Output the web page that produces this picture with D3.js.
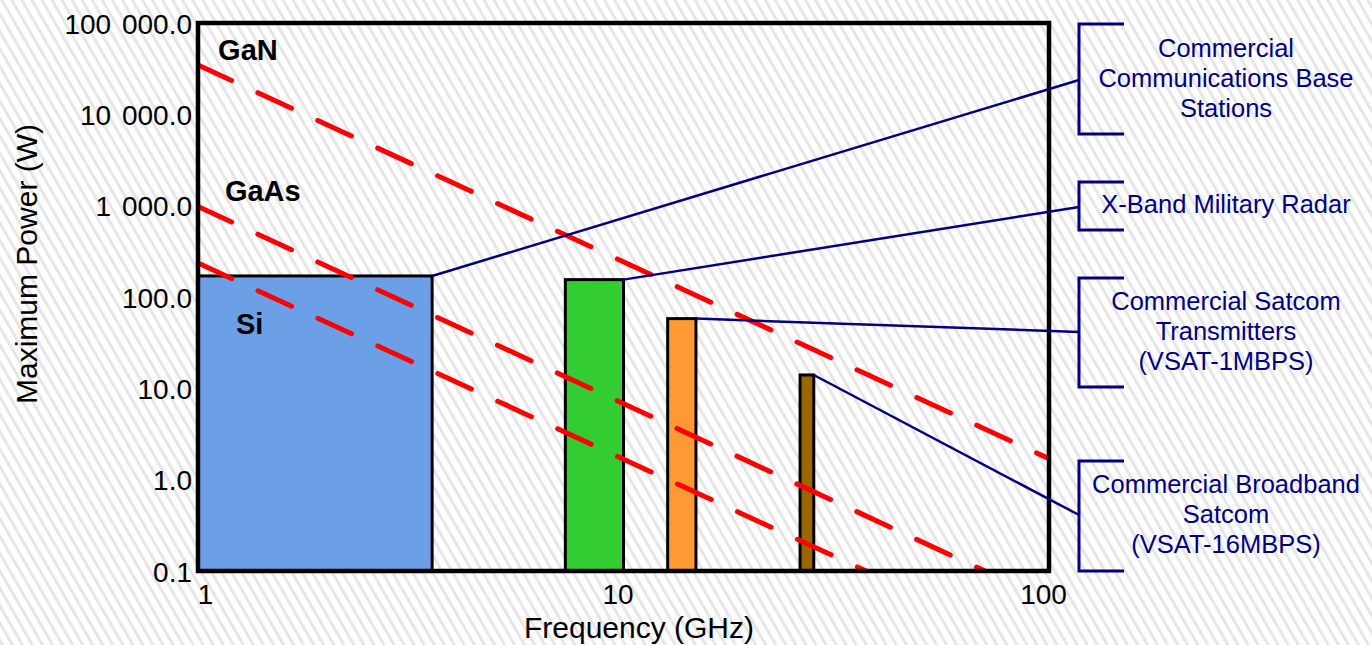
<!DOCTYPE html>
<html>
<head>
<meta charset="utf-8">
<script src="https://cdn.jsdelivr.net/npm/d3@7"></script>
<style>
  body { margin: 0; background: #fff; }
  svg { display: block; font-family: "Liberation Sans", Arial, sans-serif; }
</style>
</head>
<body>
<div id="chart"></div>
<script>
// axis ticks
const freqTicks = [1, 10, 100];
const freqTickLabels = ["1", "10", "100"];
const powerTicks = [0.1, 1, 10, 100, 1000, 10000, 100000];
const powerTickLabels = ["0.1", "1.0", "10.0", "100.0", "1 000.0", "10 000.0", "100 000.0"];

// application bands (GHz) and their max power (W)
const bandNames = ["Si", "X-Band", "Satcom 1MBPS", "Satcom 16MBPS"];
const bandFreqLow = [1, 7.3, 12.7, 26];
const bandFreqHigh = [3.55, 10, 14.8, 28];
const bandPower = [170, 155, 58, 14];
const bandColors = ["#6ca0e6", "#33cc33", "#ff9933", "#996600"];

// technology limit lines, [frequency, power] end points
const limitNames = ["GaN", "GaAs", "Si"];
const limitStart = [[1, 34700], [1, 980], [1, 235]];
const limitEnd = [[100, 1.7], [70.7, 0.1], [37.2, 0.1]];

// material labels, anchored in data units
const materialLabels = ["GaN", "GaAs", "Si"];
const materialLabelFreq = [1.115, 1.157, 1.228];
const materialLabelPower = [39400, 1130, 39.4];

// callout texts, one per band
const calloutLines = [
    ["Commercial", "Communications Base", "Stations"],
    ["X-Band Military Radar"],
    ["Commercial Satcom", "Transmitters", "(VSAT-1MBPS)"],
    ["Commercial Broadband", "Satcom", "(VSAT-16MBPS)"]
];

const width = 1372;
const height = 645;
const margin = { top: 23, right: 323, bottom: 74, left: 198 };
const navy = "#000080";

// bracket layout (pixels, outside the plot)
const bracketX = 1079;
const bracketTick = 45;
const bracketTop = [24, 182, 278, 461];
const bracketBottom = [134, 230, 387, 571];
const bracketJoin = [80, 207, 332, 515];
const bracketTextX = 1226;
const bracketTextBase = [57, 213, 310, 493];

const svg = d3.select("#chart")
    .append("svg")
    .attr("width", width)
    .attr("height", height);

const defs = svg.append("defs");

const pattern = defs.append("pattern")
    .attr("id", "stripes")
    .attr("patternUnits", "userSpaceOnUse")
    .attr("width", 8.7)
    .attr("height", 10)
    .attr("patternTransform", "rotate(-30)");
pattern.append("rect")
    .attr("width", 8.7)
    .attr("height", 10)
    .attr("fill", "#ffffff");
pattern.append("rect")
    .attr("width", 3)
    .attr("height", 10)
    .attr("fill", "#e6e6e6");

defs.append("clipPath")
    .attr("id", "clip")
    .append("rect")
    .attr("x", margin.left)
    .attr("y", margin.top)
    .attr("width", width - margin.right - margin.left)
    .attr("height", height - margin.top - margin.bottom);

svg.append("rect")
    .attr("width", width)
    .attr("height", height)
    .attr("fill", "url(#stripes)");

const xScale = d3.scaleLog()
    .domain([1, 100])
    .range([margin.left, width - margin.right]);

const yScale = d3.scaleLog()
    .domain([0.1, 100000])
    .range([height - margin.bottom, margin.top]);

// bands
svg.append("g")
    .selectAll("rect")
    .data(bandNames)
    .enter().append("rect")
    .attr("x", (d, i) => xScale(bandFreqLow[i]))
    .attr("y", (d, i) => yScale(bandPower[i]))
    .attr("width", (d, i) => xScale(bandFreqHigh[i]) - xScale(bandFreqLow[i]))
    .attr("height", (d, i) => yScale(0.1) - yScale(bandPower[i]))
    .attr("fill", (d, i) => bandColors[i])
    .attr("stroke", "#000")
    .attr("stroke-width", 3);

// red dashed limit lines
const line = d3.line()
    .x(d => xScale(d[0]))
    .y(d => yScale(d[1]));

svg.append("g")
    .attr("clip-path", "url(#clip)")
    .selectAll("path")
    .data(limitNames)
    .enter().append("path")
    .attr("d", (d, i) => line([limitStart[i], limitEnd[i]]))
    .attr("fill", "none")
    .attr("stroke", "#ff0000")
    .attr("stroke-width", 5)
    .attr("stroke-linecap", "round")
    .attr("stroke-dasharray", "37,29");

// plot frame
svg.append("rect")
    .attr("x", margin.left)
    .attr("y", margin.top)
    .attr("width", width - margin.right - margin.left)
    .attr("height", height - margin.top - margin.bottom)
    .attr("fill", "none")
    .attr("stroke", "#000")
    .attr("stroke-width", 4.5);

// axes, labels only
const xAxis = d3.axisBottom(xScale)
    .tickValues(freqTicks)
    .tickFormat((d, i) => freqTickLabels[i])
    .tickSize(0)
    .tickPadding(13);

const yAxis = d3.axisLeft(yScale)
    .tickValues(powerTicks)
    .tickFormat((d, i) => powerTickLabels[i])
    .tickSize(0)
    .tickPadding(6);

const xAxisGroup = svg.append("g")
    .attr("transform", `translate(0,${height - margin.bottom})`)
    .call(xAxis);
const yAxisGroup = svg.append("g")
    .attr("transform", `translate(${margin.left},0)`)
    .call(yAxis);

[xAxisGroup, yAxisGroup].forEach(g => {
    g.select(".domain").remove();
    g.selectAll("text")
        .attr("font-family", "Liberation Sans, Arial, sans-serif")
        .attr("font-size", 28)
        .attr("fill", "#000");
});
yAxisGroup.selectAll("text")
    .attr("dy", "0.36em")
    .style("word-spacing", "3px");

// the original nudges the end labels inward a little
xAxisGroup.selectAll("text")
    .attr("dx", (d, i) => [7, -6, -6][i]);

svg.append("text")
    .attr("x", 639)
    .attr("y", 638)
    .attr("text-anchor", "middle")
    .attr("font-size", 30)
    .text("Frequency (GHz)");

svg.append("text")
    .attr("transform", "translate(37,264) rotate(-90)")
    .attr("text-anchor", "middle")
    .attr("font-size", 30)
    .text("Maximum Power (W)");

// material labels
svg.append("g")
    .selectAll("text")
    .data(materialLabels)
    .enter().append("text")
    .attr("x", (d, i) => xScale(materialLabelFreq[i]))
    .attr("y", (d, i) => yScale(materialLabelPower[i]))
    .attr("font-size", 29)
    .attr("font-weight", "bold")
    .text(d => d);

// connectors from band corners to brackets
svg.append("g")
    .selectAll("line")
    .data(bandNames)
    .enter().append("line")
    .attr("x1", (d, i) => xScale(bandFreqHigh[i]))
    .attr("y1", (d, i) => yScale(bandPower[i]))
    .attr("x2", bracketX)
    .attr("y2", (d, i) => bracketJoin[i])
    .attr("stroke", navy)
    .attr("stroke-width", 2.5);

svg.append("g")
    .selectAll("path")
    .data(bandNames)
    .enter().append("path")
    .attr("d", (d, i) => `M${bracketX + bracketTick},${bracketTop[i]}H${bracketX}V${bracketBottom[i]}H${bracketX + bracketTick}`)
    .attr("fill", "none")
    .attr("stroke", navy)
    .attr("stroke-width", 3);

const callouts = svg.append("g")
    .selectAll("text")
    .data(calloutLines)
    .enter().append("text")
    .attr("x", bracketTextX)
    .attr("y", (d, i) => bracketTextBase[i])
    .attr("text-anchor", "middle")
    .attr("font-size", 25.5)
    .attr("fill", navy);

callouts.selectAll("tspan")
    .data(d => d)
    .enter().append("tspan")
    .attr("x", bracketTextX)
    .attr("dy", (d, i) => i === 0 ? 0 : 30)
    .text(d => d);
</script>
</body>
</html>
